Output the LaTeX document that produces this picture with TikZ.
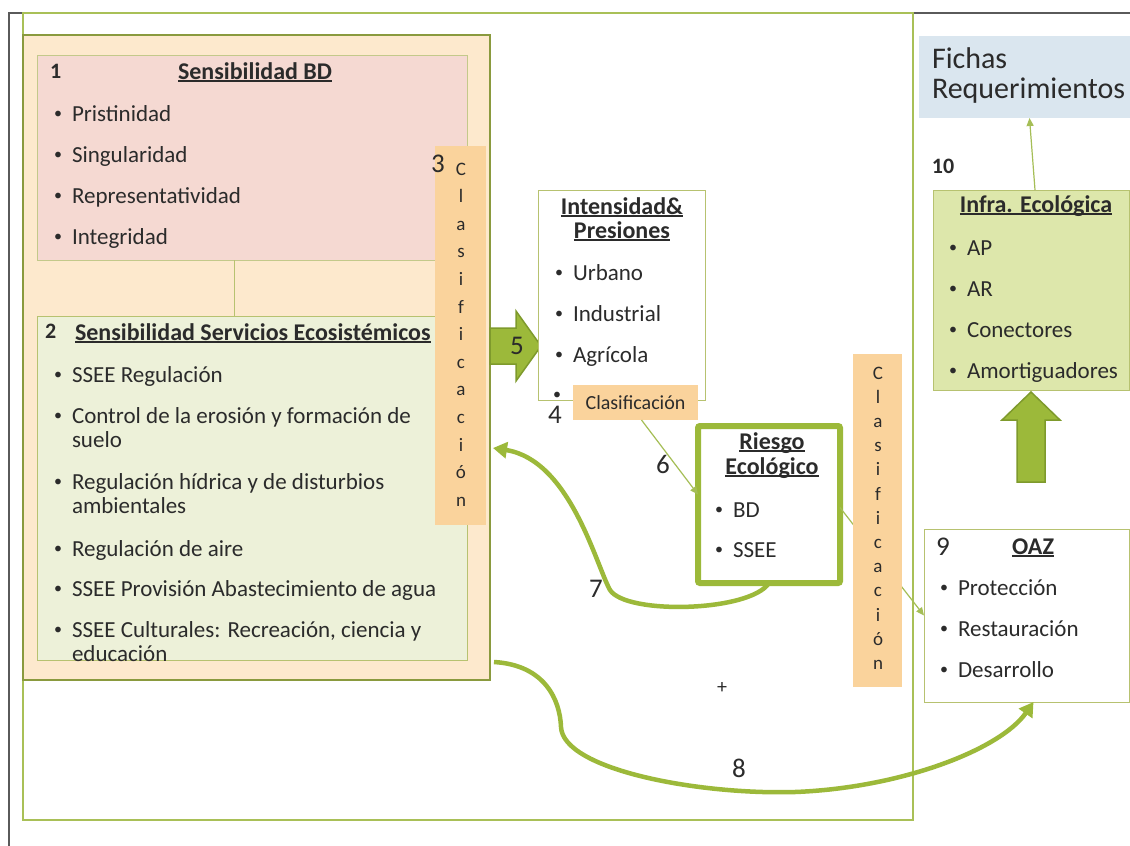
\documentclass[tikz,border=0pt]{standalone}
\usepackage{fontspec}
\setmainfont{Carlito}
\usetikzlibrary{arrows.meta}
\definecolor{txt}{HTML}{2B2B2B}
\definecolor{darkline}{HTML}{5A5A5A}
\definecolor{frameGreen}{HTML}{A9C057}
\definecolor{peachBorder}{HTML}{8A9A3E}
\definecolor{peachFill}{HTML}{FDE9CD}
\definecolor{pinkFill}{HTML}{F5D9D2}
\definecolor{pinkBorder}{HTML}{C3C98A}
\definecolor{greenFill}{HTML}{EDF1D9}
\definecolor{greenBorder}{HTML}{B7C270}
\definecolor{clasFill}{HTML}{FAD39C}
\definecolor{arrowGreen}{HTML}{9CB93A}
\definecolor{arrowBorder}{HTML}{7E9A2C}
\definecolor{conn}{HTML}{A5BE56}
\definecolor{infraFill}{HTML}{DDE7AB}
\definecolor{fichasFill}{HTML}{DAE6EF}
\newsavebox\ulbox
\newcommand\myul[1]{\sbox\ulbox{#1}\rlap{\rule[-2.5pt]{\wd\ulbox}{1.2pt}}\usebox\ulbox}
\tikzset{
  every node/.style={inner sep=0pt, outer sep=0pt, text=txt},
  box/.style={anchor=north west, draw, inner sep=0pt, outer sep=0pt},
  body/.style={anchor=base west, font=\fontsize{23}{25}\selectfont},
  bul/.style={anchor=base, font=\fontsize{16}{18}\selectfont},
  ttl/.style={anchor=base, font=\fontsize{24}{26}\selectfont\bfseries},
  num/.style={anchor=base, font=\fontsize{27}{29}\selectfont},
  bnum/.style={anchor=base west, font=\fontsize{22}{24}\selectfont\bfseries},
  vlet/.style={anchor=base, font=\fontsize{19}{20}\selectfont},
  thinc/.style={draw=conn, line width=1.2pt, -{Triangle[length=8pt,width=7pt]}},
  thickc/.style={draw=arrowGreen, line width=4.5pt, -{Triangle[length=14pt,width=16pt]}},
  block/.style={fill=arrowGreen, draw=arrowBorder, line width=1.5pt, line join=miter},
}
\newcommand\itm[4]{\node[bul] (#1b) at (#2-14,#3) {\raisebox{2.2pt}{•}}; \node[body] (#1) at (#2,#3) {#4};}
\begin{document}
\begin{tikzpicture}[x=1pt,y=-1pt]
\useasboundingbox (0,0) rectangle (1130,846);
\fill[white] (0,0) rectangle (1130,846);
% outer frames
\draw[darkline, line width=1.5pt] (9,846) -- (9,13) -- (1130,13);
\node[box, draw=frameGreen, line width=2pt, minimum width=890pt, minimum height=807pt] (frame) at (23,13) {};
% big peach box
\node[box, draw=peachBorder, fill=peachFill, line width=2.2pt, minimum width=467pt, minimum height=645pt] (peach) at (23,35) {};
% box 1
\node[box, draw=pinkBorder, fill=pinkFill, line width=1pt, minimum width=430pt, minimum height=205pt] (box1) at (37,55) {};
% box 2
\node[box, draw=greenBorder, fill=greenFill, line width=1pt, minimum width=430pt, minimum height=344pt] (box2) at (37,316) {};
\draw[draw=greenBorder, line width=1pt] ([xshift=-18pt]box1.south) -- ([xshift=-18pt]box2.north);
% box1 text
\node[bnum] (n1) at (50,78) {1};
\node[ttl] (t1) at (255,79) {\myul{Sensibilidad BD}};
\itm{i11}{72}{121}{Pristinidad}
\itm{i12}{72}{162}{Singularidad}
\itm{i13}{72}{203}{Representatividad}
\itm{i14}{72}{244}{Integridad}
% box2 text
\node[bnum] (n2) at (45,338) {2};
\node[ttl, anchor=base west] (t2) at (75,340) {\myul{Sensibilidad Servicios Ecosistémicos}};
\itm{i21}{72}{382}{SSEE Regulación}
\itm{i22}{72}{423}{Control de la erosión y formación de}
\node[body] (i22c) at (72,447) {suelo};
\itm{i23}{72}{489}{Regulación hídrica y de disturbios}
\node[body] (i23c) at (72,513) {ambientales};
\itm{i24}{72}{556}{Regulación de aire}
\itm{i25}{72}{596}{SSEE Provisión Abastecimiento de agua}
\itm{i26}{72}{637}{SSEE Culturales: Recreación, ciencia y}
\node[body] (i26c) at (72,661) {educación};
% clasificacion 3
\node[box, draw=none, fill=clasFill, minimum width=51pt, minimum height=379pt] (clas3) at (435,146) {};
\foreach \ch [count=\i from 0] in {C,l,a,s,i,f,i,c,a,c,i,ó,n}
  \node[vlet] (cl3-\i) at (461,175+27.6*\i) {\ch};
\node[num] (n3) at (438,172) {3};
% block arrow 5
\path[block] (490,328) -- (516,328) -- (516,311) -- (541,346) -- (516,381) -- (516,364) -- (490,364) -- cycle;
\node[num] (n5) at (517,354) {5};
% Intensidad box
\node[box, draw=greenBorder, fill=white, line width=1pt, minimum width=167pt, minimum height=210pt] (inten) at (538,190) {};
\node[ttl] (t4a) at (622,214) {\myul{Intensidad\&}};
\node[ttl] (t4b) at (622,238) {\myul{Presiones}};
\itm{i41}{573}{280}{Urbano}
\itm{i42}{573}{321}{Industrial}
\itm{i43}{573}{362}{Agrícola}
\node[bul] (i44b) at (557,402) {\raisebox{2.2pt}{•}};
\node[num] (n4) at (555,423) {4};
\node[box, draw=none, fill=clasFill, minimum width=125pt, minimum height=35pt, font=\fontsize{20}{22}\selectfont] (clas4) at (573,385) {Clasificación};
% Riesgo box
\node[box, draw=arrowGreen, fill=white, line width=6pt, rounded corners=2pt, minimum width=142pt, minimum height=157pt] (riesgo) at (698,426) {};
\node[ttl] (t6a) at (772,449) {\myul{Riesgo}};
\node[ttl] (t6b) at (772,474) {\myul{Ecológico}};
\itm{i61}{733}{517}{BD}
\itm{i62}{733}{557}{SSEE}
% OAZ box
\node[box, draw=greenBorder, fill=white, line width=1pt, minimum width=205pt, minimum height=173pt] (oaz) at (924,529) {};
\node[num] (n9) at (943,555) {9};
\node[ttl] (t9) at (1033,554) {\myul{OAZ}};
\itm{i91}{958}{595}{Protección}
\itm{i92}{958}{636}{Restauración}
\itm{i93}{958}{677}{Desarrollo}
% connectors 6 and riesgo->oaz
\draw[thinc] ([xshift=6pt]clas4.south) -- ([yshift=10pt]riesgo.west);
\draw[thinc] ([yshift=-3pt]riesgo.east) -- (oaz.west);
\node[num] (n6) at (663,473) {6};
% clasificacion 9
\node[box, draw=none, fill=clasFill, minimum width=49pt, minimum height=333pt] (clas9) at (853,354) {};
\foreach \ch [count=\i from 0] in {C,l,a,s,i,f,i,c,a,c,i,ó,n}
  \node[vlet] (cl9-\i) at (878,379+24.2*\i) {\ch};
% Infra box
\node[box, draw=greenBorder, fill=infraFill, line width=1pt, minimum width=196pt, minimum height=200pt] (infra) at (933,190) {};
\node[ttl] (t10) at (1036,212) {\myul{Infra. Ecológica}};
\itm{i101}{967}{255}{AP}
\itm{i102}{967}{296}{AR}
\itm{i103}{967}{337}{Conectores}
\itm{i104}{967}{378}{Amortiguadores}
\node[bnum, anchor=base] (n10) at (943,173) {10};
% Fichas
\node[box, draw=none, fill=fichasFill, minimum width=211pt, minimum height=82pt] (fichas) at (919,36) {};
\node[anchor=base west, font=\fontsize{30}{32}\selectfont] (f1) at (932,68) {Fichas};
\node[anchor=base west, font=\fontsize{30}{32}\selectfont] (f2) at (932,98) {Requerimientos};
\draw[thinc] ([xshift=4pt]infra.north) -- ([xshift=5pt]fichas.south);
% up block arrow
\path[block] (1017,482) -- (1017,420) -- (1002,420) -- (1031,392) -- (1060,420) -- (1045,420) -- (1045,482) -- cycle;
% thick curved arrows
\coordinate (e7) at (493,448);
\coordinate (s8) at (494,662);
\draw[thickc] (riesgo.south) .. controls (750,612) and (626,615) .. (610,590) .. controls (596,565) and (570,460) .. (e7);
\node[num] (n7) at (596,597) {7};
\draw[thickc] (s8) .. controls (545,665) and (560,700) .. (561,727) .. controls (563,770) and (700,795) .. (795,792) .. controls (900,788) and (1000,750) .. ([xshift=7pt]oaz.south);
\node[num] (n8) at (739,777) {8};
\node[font=\fontsize{20}{22}\selectfont] (plus) at (722,688) {+};
\end{tikzpicture}
\end{document}
